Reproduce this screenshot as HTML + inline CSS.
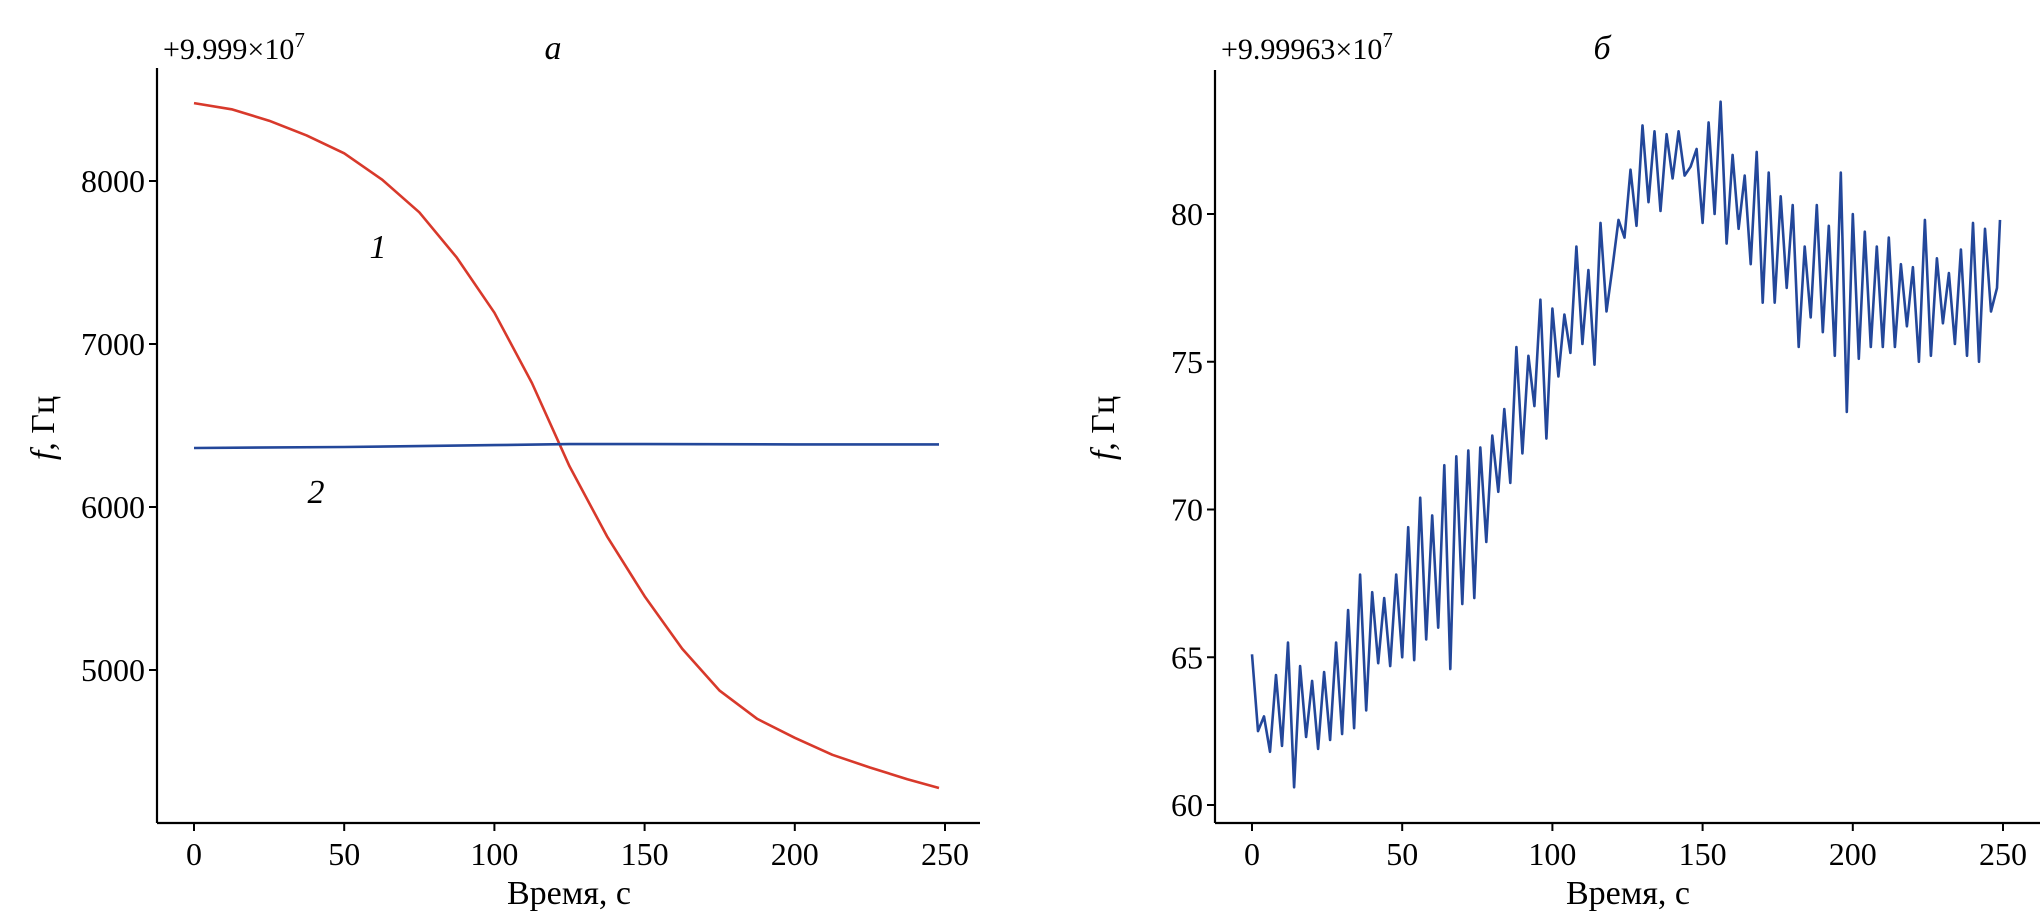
<!DOCTYPE html>
<html><head><meta charset="utf-8"><style>
html,body{margin:0;padding:0;background:#fff;}
svg{display:block;font-family:"Liberation Serif","DejaVu Serif",serif;}
</style></head><body>
<svg id="c" width="2040" height="920" viewBox="0 0 2040 920" xmlns="http://www.w3.org/2000/svg"></svg>
<script>
// Panel a data
const tA = [0,12.5,25,37.5,50,62.5,75,87.5,100,112.5,125,137.5,150,162.5,175,187.5,200,212.5,225,237.5,248];
const series1 = [8478,8440,8370,8280,8170,8010,7808,7530,7192,6760,6250,5820,5453,5130,4873,4700,4584,4480,4402,4330,4276];
const tA2 = [0,50,100,125,150,200,248];
const series2 = [6362,6368,6380,6386,6386,6384,6384];
const yTicksA = [5000,6000,7000,8000];
const xTicks = [0,50,100,150,200,250];
// Panel b data (every 2 s)
const seriesB = [65.1,62.5,63.0,61.8,64.4,62.0,65.5,60.6,64.7,62.3,64.2,61.9,64.5,62.2,65.5,62.4,66.6,62.6,67.8,63.2,
67.2,64.8,67.0,64.7,67.8,65.0,69.4,64.9,70.4,65.6,69.8,66.0,71.5,64.6,71.8,66.8,72.0,67.0,72.1,68.9,
72.5,70.6,73.4,70.9,75.5,71.9,75.2,73.5,77.1,72.4,76.8,74.5,76.6,75.3,78.9,75.6,78.1,74.9,79.7,76.7,
78.2,79.8,79.2,81.5,79.6,83.0,80.4,82.8,80.1,82.7,81.2,82.8,81.3,81.6,82.2,79.7,83.1,80.0,83.8,79.0,
82.0,79.5,81.3,78.3,82.1,77.0,81.4,77.0,80.6,77.5,80.3,75.5,78.9,76.5,80.3,76.0,79.6,75.2,81.4,73.3,
80.0,75.1,79.4,75.5,78.9,75.5,79.2,75.5,78.3,76.2,78.2,75.0,79.8,75.2,78.5,76.3,78.0,75.6,78.8,75.2,
79.7,75.0,79.5,76.7,77.5,79.8];
const yTicksB = [60,65,70,75,80];

const NS="http://www.w3.org/2000/svg";
const svg=document.getElementById('c');
function mk(tag,attrs,parent){const e=document.createElementNS(NS,tag);for(const k in attrs)e.setAttribute(k,attrs[k]);(parent||svg).appendChild(e);return e;}

function panel(o){
  const g=mk('g',{});
  
  
  const xs=v=>o.x0+(v-0)/(250-0)*(o.x250-o.x0);
  const ys=v=>o.yA+(v-o.vA)/(o.vB-o.vA)*(o.yB-o.yA);
  const ya=mk('line',{x1:o.ax,y1:o.top,x2:o.ax,y2:823,stroke:'#000','stroke-width':2.2},g);
  
  const xa=mk('line',{x1:o.ax,y1:823,x2:o.right,y2:823,stroke:'#000','stroke-width':2.2},g);
  
  xTicks.forEach(v=>{
    mk('line',{x1:xs(v),y1:823,x2:xs(v),y2:831,stroke:'#000','stroke-width':2},g);
    const t=mk('text',{x:xs(v),y:865,'font-size':32,'text-anchor':'middle'},g);t.textContent=v;
    
  });
  o.yTicks.forEach(v=>{
    mk('line',{x1:o.ax,y1:ys(v),x2:o.ax-8,y2:ys(v),stroke:'#000','stroke-width':2},g);
    const t=mk('text',{x:o.ax-12,y:ys(v)+11,'font-size':32,'text-anchor':'end'},g);t.textContent=v;
    
  });
  o.series.forEach(s=>{
    const d=s.t.map((t,i)=>(i?'L':'M')+xs(t).toFixed(1)+','+ys(s.v[i]).toFixed(1)).join('');
    const p=mk('path',{d:d,fill:'none',stroke:s.color,'stroke-width':2.6,'stroke-linejoin':'round'},g);
    
  });
  const off=mk('text',{x:o.ax+6,y:59,'font-size':30},g);
  off.innerHTML=o.offset+'<tspan dy="-12" font-size="21">7</tspan>';
  
  const ti=mk('text',{x:o.titleX,y:59,'font-size':34,'font-style':'italic','text-anchor':'middle'},g);ti.textContent=o.title;
  
  const xl=mk('text',{x:o.xlX,y:904,'font-size':34,'text-anchor':'middle'},g);xl.textContent='Время, с';
  
  const yl=mk('text',{x:0,y:0,'font-size':34,'text-anchor':'middle',transform:`translate(${o.ylX},428) rotate(-90)`},g);
  yl.innerHTML='<tspan font-style="italic">f</tspan>, Гц';
  
  return {g,xs,ys};
}

const A=panel({name:'panel-a',ax:157,top:68,right:980,x0:194,x250:945,yA:181,vA:8000,yB:670,vB:5000,
  yTicks:yTicksA,offset:'+9.999×10',title:'a',titleX:553,xlX:569,ylX:54,
  series:[{t:tA,v:series1,color:'#d8392b',name:'curve-1'},{t:tA2,v:series2,color:'#23479a',name:'curve-2'}]});
const l1=mk('text',{x:378,y:258,'font-size':34,'font-style':'italic','text-anchor':'middle'},A.g);l1.textContent='1';


const l2=mk('text',{x:316,y:503,'font-size':34,'font-style':'italic','text-anchor':'middle'},A.g);l2.textContent='2';



const tB=seriesB.map((_,i)=>Math.min(i*2,249));
panel({name:'panel-b',ax:1215,top:70,right:2040,x0:1252,x250:2003,yA:805,vA:60,yB:214,vB:80,
  yTicks:yTicksB,offset:'+9.99963×10',title:'б',titleX:1602,xlX:1628,ylX:1114,
  series:[{t:tB,v:seriesB,color:'#23479a',name:'frequency-line'}]});
</script>
</body></html>
